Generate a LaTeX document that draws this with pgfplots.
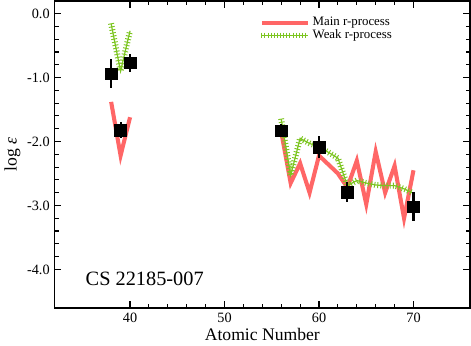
\documentclass[border=0pt]{standalone}
\usepackage{pgfplots}
\pgfplotsset{compat=1.18}
\usepackage{fontspec}
\setmainfont{Liberation Serif}
\usetikzlibrary{decorations.pathreplacing}
\definecolor{mainred}{RGB}{255,102,102}
\definecolor{weakgreen}{RGB}{124,197,32}
\tikzset{weakstyle/.style={weakgreen, line width=0.9pt,
  postaction={decorate, draw=weakgreen, line width=0.7pt, decoration={ticks, segment length=2.3pt, amplitude=2.2pt}}}}
\begin{document}
\begin{tikzpicture}
\begin{axis}[
  scale only axis,
  width=306.75pt, height=226.5pt,
  xmin=32, xmax=76, ymin=-4.6, ymax=0.2,
  xtick={40,50,60,70},
  minor x tick num=4,
  ytick={-4,-3,-2,-1,0},
  yticklabels={-4.0,-3.0,-2.0,-1.0,0.0},
  minor y tick num=4,
  tick align=inside,
  major tick length=5pt, minor tick length=3pt,
  axis line style={line width=1.2pt},
  tick style={line width=0.8pt, black},
  /pgf/number format/assume math mode=true,
  tick label style={font=\fontsize{10.5}{12}\selectfont},
  xlabel={Atomic Number},
  ylabel={log \textit{ε}},
  label style={font=\fontsize{13}{15}\selectfont},
  xlabel style={yshift=2pt},
  ylabel style={yshift=-2pt},
  legend style={draw=none, fill=none, at={(0.49,0.96)}, anchor=north west,
    font=\fontsize{9.5}{10}\selectfont, row sep=-2.5pt, inner sep=1pt},
  legend cell align=left,
  legend image code/.code={\draw[#1] (0pt,0pt) -- (34pt,0pt);},
]
\addplot[mainred, line width=3pt, line join=miter] coordinates {(38,-1.38) (39,-2.22) (40,-1.62)};
\addlegendentry{Main r-process}
\addplot[weakstyle] coordinates {(38,-0.16) (39,-0.90) (40,-0.27)};
\addlegendentry{Weak r-process}
\addplot[mainred, line width=3pt, forget plot] coordinates {
(56,-1.85) (57,-2.65) (58,-2.34) (59,-2.80) (60,-2.22) (62,-2.50) (63,-2.72)
(64,-2.30) (65,-2.98) (66,-2.16) (67,-2.80) (68,-2.38) (69,-3.20) (70,-2.45)};
\addplot[weakstyle, forget plot] coordinates {
(56,-1.65) (57,-2.53) (58,-1.95) (59,-2.03) (60,-2.08) (62,-2.26) (63,-2.69)
(64,-2.61) (65,-2.65) (66,-2.68) (67,-2.69) (68,-2.69) (69,-2.74) (70,-2.81)};
\addplot[black, only marks, mark=square*, mark size=4.3pt, forget plot,
  error bars/.cd, y dir=both, y explicit, error mark=none,
  error bar style={line width=1.6pt, black}]
  coordinates {
  (38,-0.94) +- (0,0.23)
  (39,-1.82) +- (0,0.13)
  (40,-0.77) +- (0,0.14)
  (56,-1.83) +- (0,0.10)
  (60,-2.09) +- (0,0.17)
  (63,-2.79) +- (0,0.15)
  (70,-3.02) +- (0,0.23)
  };
\node[anchor=west, font=\fontsize{15}{17}\selectfont] at (axis cs:34.8,-4.14) {CS 22185-007};
\end{axis}
\end{tikzpicture}
\end{document}
